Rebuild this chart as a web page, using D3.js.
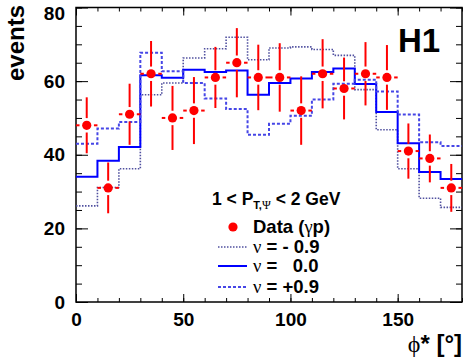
<!DOCTYPE html>
<html>
<head>
<meta charset="utf-8">
<script src="https://cdn.jsdelivr.net/npm/d3@7"></script>
<style>
body { margin: 0; background: #fff; }
svg { display: block; }
text { font-family: "Liberation Sans", Arial, sans-serif; font-weight: bold; fill: #000; }
.greek { font-family: "Liberation Serif", "DejaVu Serif", serif; font-weight: normal; }
</style>
</head>
<body>
<svg id="chart" width="466" height="358"></svg>
<script>
// bins in phi* (degrees), one entry per 10 degree bin
var phiBins = [5, 15, 25, 35, 45, 55, 65, 75, 85, 95, 105, 115, 125, 135, 145, 155, 165, 175];
var dataEvents = [48, 31, 51, 62, 50, 52, 61, 65, 61, 61, 52, 62, 58, 62, 61, 41, 39, 31];
var dataErrors = [7.6, 6.9, 8.3, 8.9, 8.7, 9.1, 8.3, 9.4, 8.9, 9.3, 9.3, 9.4, 8.4, 8.6, 8.8, 7.5, 6.5, 6.5];

// predictions
var nuMinus = [26.1, 31.1, 36.2, 56.3, 59.5, 66.3, 68.8, 71.9, 65.8, 69.0, 69.3, 68.6, 67.0, 57.7, 46.8, 36.2, 28.2, 25.7];
var nuZero  = [34.0, 38.4, 42.1, 61.6, 60.9, 63.1, 62.5, 62.9, 56.3, 59.5, 60.7, 62.5, 63.4, 59.2, 51.6, 43.1, 35.3, 33.4];
var nuPlus  = [43.0, 47.1, 48.9, 67.7, 62.7, 59.5, 55.3, 52.4, 45.4, 48.4, 50.6, 55.0, 59.3, 60.4, 57.2, 50.9, 43.4, 42.4];

var xTicks = [0, 50, 100, 150];
var yTicks = [0, 20, 40, 60, 80];
var xRange = [0, 180];
var yRange = [0, 80];

var padL = 76, padR = 462, padT = 7.5, padB = 302;

var svg = d3.select('#chart');
var x = d3.scaleLinear().domain(xRange).range([padL, padR]);
var y = d3.scaleLinear().domain(yRange).range([padB, padT]);
var halfBin = (phiBins[1] - phiBins[0]) / 2;

// ---- axes (ticks point inwards, like ROOT) ----
function styleAxis(g, size) {
   g.select('.domain').remove();
   g.selectAll('line').attr('stroke', '#000').attr('stroke-width', 1);
   g.selectAll('text').attr('font-size', size).attr('font-family', null);
}

svg.append('g').attr('transform', 'translate(0,' + padB + ')')
   .call(d3.axisBottom(x).ticks(18).tickSize(-4).tickSizeOuter(0).tickFormat(''))
   .call(styleAxis, 19);
svg.append('g').attr('transform', 'translate(0,' + padB + ')')
   .call(d3.axisBottom(x).tickValues(xTicks).tickSize(-8).tickSizeOuter(0).tickPadding(11).tickFormat(d3.format('d')))
   .call(styleAxis, 19);
svg.append('g').attr('transform', 'translate(0,' + padT + ')')
   .call(d3.axisTop(x).ticks(18).tickSize(-4).tickSizeOuter(0).tickFormat(''))
   .call(styleAxis, 19);
svg.append('g').attr('transform', 'translate(0,' + padT + ')')
   .call(d3.axisTop(x).tickValues(xTicks).tickSize(-8).tickSizeOuter(0).tickFormat(''))
   .call(styleAxis, 19);

svg.append('g').attr('transform', 'translate(' + padL + ',0)')
   .call(d3.axisLeft(y).ticks(16).tickSize(-6).tickSizeOuter(0).tickFormat(''))
   .call(styleAxis, 19);
var yAxisG = svg.append('g').attr('transform', 'translate(' + padL + ',0)')
   .call(d3.axisLeft(y).tickValues(yTicks).tickSize(-12).tickSizeOuter(0).tickPadding(11).tickFormat(d3.format('d')))
   .call(styleAxis, 19);
// keep the top label inside the picture, as ROOT does
yAxisG.selectAll('.tick text')
   .filter(function(d) { return d === yRange[1]; })
   .attr('dy', '0.62em');
svg.append('g').attr('transform', 'translate(' + padR + ',0)')
   .call(d3.axisRight(y).ticks(16).tickSize(-6).tickSizeOuter(0).tickFormat(''))
   .call(styleAxis, 19);
svg.append('g').attr('transform', 'translate(' + padR + ',0)')
   .call(d3.axisRight(y).tickValues(yTicks).tickSize(-12).tickSizeOuter(0).tickFormat(''))
   .call(styleAxis, 19);

// frame
svg.append('rect')
   .attr('x', padL).attr('y', padT)
   .attr('width', padR - padL).attr('height', padB - padT)
   .attr('fill', 'none').attr('stroke', '#000').attr('stroke-width', 1.5);

// ---- histograms ----
var step = d3.line()
   .x(function(d) { return x(d[0]); })
   .y(function(d) { return y(d[1]); })
   .curve(d3.curveStepAfter);

function histPoints(vals) {
   var pts = phiBins.map(function(c, i) { return [c - halfBin, vals[i]]; });
   pts.push([phiBins[phiBins.length - 1] + halfBin, vals[vals.length - 1]]);
   return pts;
}

var styles = [
   { vals: nuMinus, color: '#50509f', width: 1.6, dash: '1.5,1.5' },
   { vals: nuZero,  color: '#0000ff', width: 2,   dash: null },
   { vals: nuPlus,  color: '#4646e6', width: 2,   dash: '3,2' }
];

svg.selectAll('path.hist')
   .data(styles)
   .enter()
   .append('path')
      .attr('class', 'hist')
      .attr('d', function(s) { return step(histPoints(s.vals)); })
      .attr('fill', 'none')
      .attr('stroke', function(s) { return s.color; })
      .attr('stroke-width', function(s) { return s.width; })
      .attr('stroke-dasharray', function(s) { return s.dash; });

// ---- data points ----
var r = 4.6, gap = 2.6;
var pts = svg.selectAll('g.pt')
   .data(phiBins.map(function(c, i) { return { c: c, v: dataEvents[i], e: dataErrors[i] }; }))
   .enter()
   .append('g').attr('class', 'pt');

pts.append('line')
   .attr('x1', function(d) { return x(d.c); }).attr('x2', function(d) { return x(d.c); })
   .attr('y1', function(d) { return y(d.v + d.e); }).attr('y2', function(d) { return y(d.v) - r - gap; });
pts.append('line')
   .attr('x1', function(d) { return x(d.c); }).attr('x2', function(d) { return x(d.c); })
   .attr('y1', function(d) { return y(d.v) + r + gap; }).attr('y2', function(d) { return y(d.v - d.e); });
pts.append('line')
   .attr('x1', function(d) { return x(d.c - halfBin); }).attr('x2', function(d) { return x(d.c) - r - gap; })
   .attr('y1', function(d) { return y(d.v); }).attr('y2', function(d) { return y(d.v); });
pts.append('line')
   .attr('x1', function(d) { return x(d.c) + r + gap; }).attr('x2', function(d) { return x(d.c + halfBin); })
   .attr('y1', function(d) { return y(d.v); }).attr('y2', function(d) { return y(d.v); });
pts.selectAll('line').attr('stroke', '#ff0000').attr('stroke-width', 2);
pts.append('circle')
   .attr('cx', function(d) { return x(d.c); })
   .attr('cy', function(d) { return y(d.v); })
   .attr('r', r)
   .attr('fill', '#ff0000');

// ---- labels ----
svg.append('text')
   .attr('transform', 'translate(24,5) rotate(-90)')
   .attr('text-anchor', 'end')
   .attr('font-size', 24)
   .text('events');

var xl = svg.append('text')
   .attr('x', 462).attr('y', 352)
   .attr('text-anchor', 'end')
   .attr('font-size', 24);
xl.append('tspan').attr('class', 'greek').text('\u03d5');
xl.append('tspan').text('* [\u00b0]');

svg.append('text')
   .attr('x', 398).attr('y', 52)
   .attr('font-size', 33)
   .text('H1');

// ---- legend ----
var lg = svg.append('g');
var t1 = lg.append('text').attr('x', 212).attr('y', 205).attr('font-size', 17.5);
t1.append('tspan').text('1 < P');
t1.append('tspan').attr('font-size', 11).attr('dy', 4).text('T,');
t1.append('tspan').attr('class', 'greek').attr('font-size', 12).text('\u03a8');
t1.append('tspan').attr('dy', -4).text(' < 2 GeV');

lg.append('circle').attr('cx', 233).attr('cy', 227).attr('r', r).attr('fill', '#ff0000');
var t2 = lg.append('text').attr('x', 253).attr('y', 233).attr('font-size', 18.5);
t2.append('tspan').text('Data (');
t2.append('tspan').attr('class', 'greek').text('\u03b3');
t2.append('tspan').text('p)');

var legendRows = [
   { s: styles[0], y: 247, label: '= - 0.9' },
   { s: styles[1], y: 266, label: '=   0.0' },
   { s: styles[2], y: 287, label: '= +0.9' }
];
var rows = lg.selectAll('g.row').data(legendRows).enter().append('g').attr('class', 'row');
rows.append('line')
   .attr('x1', 218).attr('x2', 247)
   .attr('y1', function(d) { return d.y; }).attr('y2', function(d) { return d.y; })
   .attr('stroke', function(d) { return d.s.color; })
   .attr('stroke-width', function(d) { return d.s.width; })
   .attr('stroke-dasharray', function(d) { return d.s.dash; });
var rt = rows.append('text')
   .attr('x', 253).attr('y', function(d) { return d.y + 6; })
   .attr('font-size', 18.5)
   .style('white-space', 'pre');
rt.append('tspan').attr('class', 'greek').text('\u03bd');
rt.append('tspan').text(function(d) { return ' ' + d.label; });
</script>
</body>
</html>
